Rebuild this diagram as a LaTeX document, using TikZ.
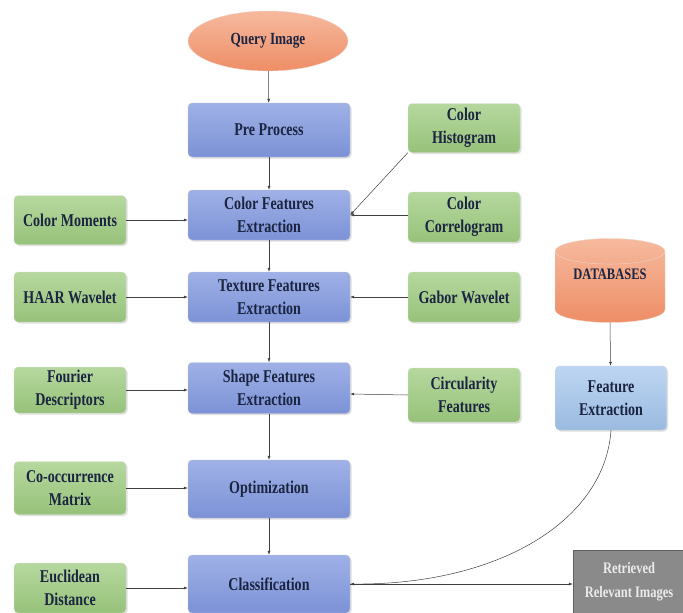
\documentclass[tikz,border=0pt]{standalone}
\usepackage{fontspec}
\setmainfont{Liberation Serif}[FakeStretch=0.78]
\usetikzlibrary{shapes.geometric,arrows.meta,shadows}
\definecolor{mainblue}{HTML}{8EA3E2}
\definecolor{mainblueD}{HTML}{7C92D6}
\definecolor{leafgreen}{HTML}{A9D18E}
\definecolor{leafgreenD}{HTML}{97C27A}
\definecolor{salmon}{HTML}{F4A886}
\definecolor{salmonD}{HTML}{EE8E66}
\definecolor{lightblue}{HTML}{A2C4EC}
\definecolor{greybox}{HTML}{8A8A8A}
\definecolor{txt}{HTML}{1B2440}
\tikzset{
  base/.style={rounded corners=4pt, align=center, font=\fontsize{18}{23}\selectfont\bfseries, text=txt,
    inner sep=1pt, drop shadow={shadow xshift=1.5pt, shadow yshift=-1.5pt, opacity=0.25}},
  mainbox/.style={base, top color=mainblue!85!white, bottom color=mainblueD, draw=mainblueD!80!black!40,
    minimum width=162pt, minimum height=54pt},
  leafbox/.style={base, top color=leafgreen!85!white, bottom color=leafgreenD, draw=leafgreenD!80!black!30,
    minimum width=112pt, minimum height=49pt},
  arr/.style={-{Latex[length=4pt,width=3pt]}, line width=0.5pt, draw=black!75},
}
\begin{document}
\begin{tikzpicture}[x=1pt,y=-1pt]
\useasboundingbox (0,0) rectangle (683,613);
\clip (0,0) rectangle (683,613);
% main chain
\node[ellipse, minimum width=160pt, minimum height=60pt, top color=salmon!80!white, bottom color=salmonD,
  draw=salmonD!80!black!30, font=\fontsize{17}{22}\selectfont\bfseries, text=txt] (query) at (268,41) {Query Image};
\node[mainbox] (pre) at (269,130) {Pre Process};
\node[mainbox, minimum height=50pt] (color) at (269,215) {Color Features\\Extraction};
\node[mainbox, minimum height=50pt] (texture) at (269,297) {Texture Features\\Extraction};
\node[mainbox, minimum height=51pt] (shape) at (269,388) {Shape Features\\Extraction};
\node[mainbox, minimum height=58pt] (opt) at (269,489) {Optimization};
\node[mainbox, minimum height=58pt] (cls) at (269,584) {Classification};
% left leaves
\node[leafbox] (moments) at (70,220) {Color Moments};
\node[leafbox, minimum height=50pt] (haar) at (70,297) {HAAR Wavelet};
\node[leafbox, minimum height=46pt] (fourier) at (70,390) {Fourier\\Descriptors};
\node[leafbox, minimum height=53pt] (cooc) at (70,488) {Co-occurrence\\Matrix};
\node[leafbox, minimum height=50pt] (eucl) at (70,588) {Euclidean\\Distance};
% right leaves
\node[leafbox] (hist) at (464,128) {Color\\Histogram};
\node[leafbox, minimum height=50pt] (corr) at (464,217) {Color\\Correlogram};
\node[leafbox, minimum height=50pt] (gabor) at (464,297) {Gabor Wavelet};
\node[leafbox, minimum height=54pt] (circ) at (464,395) {Circularity\\Features};
% database side
\node[cylinder, shape border rotate=90, aspect=0.35, minimum width=110pt, minimum height=84pt,
  top color=salmon!80!white, bottom color=salmonD, draw=salmonD!80!black!30,
  font=\fontsize{16}{22}\selectfont\bfseries, text=txt, inner sep=0pt] (db) at (610,287) {\raisebox{26pt}{DATABASES}};
\node[base, top color=lightblue!70!white, bottom color=lightblue!95!black, draw=lightblue!70!black!40,
  minimum width=111pt, minimum height=64pt] (fext) at (611,398) {Feature\\Extraction};
\node[base, rounded corners=0pt, fill=greybox, draw=greybox!70!black, text=white!92!black, font=\fontsize{16}{24}\selectfont\bfseries,
  minimum width=112pt, minimum height=64pt] (ret) at (629,582) {Retrieved\\Relevant Images};
% connectors
\draw[arr] (query) -- (pre);
\draw[arr] (pre) -- (color);
\draw[arr] (color) -- (texture);
\draw[arr] (texture) -- (shape);
\draw[arr] (shape) -- (opt);
\draw[arr] (opt) -- (cls);
\draw[arr] (moments) -- (color.west |- moments);
\draw[arr] (haar) -- (texture);
\draw[arr] (fourier) -- (shape.west |- fourier);
\draw[arr] (cooc) -- (opt.west |- cooc);
\draw[arr] (eucl) -- (cls.west |- eucl);
\draw[arr] (hist.south west) -- (color.east);
\draw[arr] (corr.west |- color.east) -- (color.east);
\draw[arr] (gabor) -- (texture);
\draw[arr] (circ.west) -- ([yshift=-6pt]shape.east);
\draw[arr] (db.bottom) -- (fext);
\draw[arr] (fext.south) .. controls (605,520) and (500,585) .. (cls.east);
\draw[arr] (cls.east) -- (ret.west |- cls.east);
\end{tikzpicture}
\end{document}
